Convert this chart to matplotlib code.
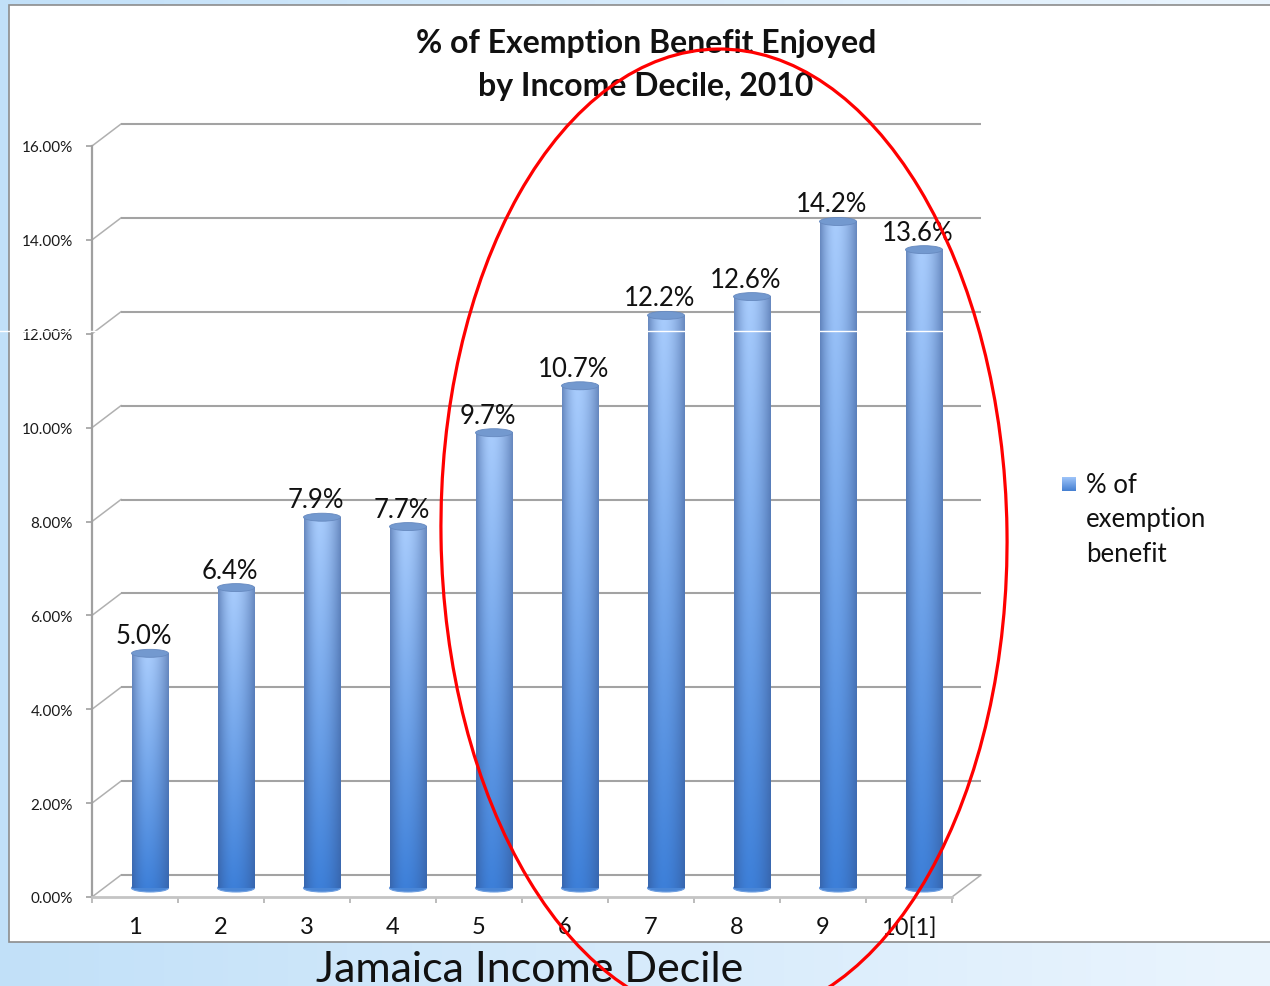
import numpy as np
import matplotlib
matplotlib.use("Agg")
import matplotlib.pyplot as plt
from matplotlib.patches import Rectangle, Ellipse
from matplotlib.transforms import ScaledTranslation
from matplotlib.ticker import FixedLocator

plt.rcParams['font.family'] = ['Lato', 'DejaVu Sans']

# ---------------- data ----------------
deciles = ["1", "2", "3", "4", "5", "6", "7", "8", "9", "10[1]"]
share = [5.0, 6.4, 7.9, 7.7, 9.7, 10.7, 12.2, 12.6, 14.2, 13.6]
y_ticks = [0, 2, 4, 6, 8, 10, 12, 14, 16]
title = "% of Exemption Benefit Enjoyed\nby Income Decile, 2010"
x_title = "Jamaica Income Decile"
legend_label = "% of\nexemption\nbenefit"

W, H = 1270, 987
DPI = 100
fig = plt.figure(figsize=(W / DPI, H / DPI), dpi=DPI)

# ---------------- background ----------------
bg = fig.add_axes([0, 0, 1, 1], zorder=-10)
bg.set_xlim(0, W); bg.set_ylim(0, H); bg.axis('off')
grad = np.linspace(0, 1, 256)
c0 = np.array([0.76, 0.88, 0.975]); c1 = np.array([0.92, 0.96, 0.995])
img = c0[None, :] * (1 - grad[:, None]) + c1[None, :] * grad[:, None]
bg.imshow(img[None, :, :], extent=(0, W, 0, H), aspect='auto')
bg.add_patch(Rectangle((9, H - 943), W, 943 - 6, facecolor='white',
                       edgecolor='#8c8c8c', lw=1.2))

# ---------------- main axes ----------------
ax_l, ax_r, ax_t, ax_b = 92, 952, 147, 898
ax = fig.add_axes([ax_l / W, (H - ax_b) / H, (ax_r - ax_l) / W, (ax_b - ax_t) / H],
                  zorder=1)
ax.patch.set_alpha(0)
ax.set_xlim(0.5, 10.5)
ax.set_ylim(0, 16)

def off(dx, dy):
    return ax.transData + ScaledTranslation(dx / DPI, dy / DPI, fig.dpi_scale_trans)

back = off(29, 22)
bar_t = off(15, 9)
lab_t = off(9, 19)

grid_c = '#a3a3a3'
# back-wall gridlines
for v in y_ticks:
    ax.plot([0.5, 10.5], [v, v], color=grid_c, lw=1.5, transform=back,
            zorder=1, clip_on=False, solid_capstyle='butt')

# slanted depth connectors
fig.canvas.draw()
def px(x, y, t):
    return t.transform((x, y))
ov0 = fig.add_axes([0, 0, 1, 1], zorder=0.5)
ov0.set_xlim(0, W); ov0.set_ylim(0, H); ov0.axis('off')
for v in y_ticks:
    p0 = px(0.5, v, ax.transData); p1 = px(0.5, v, back)
    ov0.plot([p0[0], p1[0]], [p0[1], p1[1]], color='#b0b0b0', lw=1.1)
p0 = px(10.5, 0, ax.transData); p1 = px(10.5, 0, back)
ov0.plot([p0[0], p1[0]], [p0[1], p1[1]], color='#b0b0b0', lw=1.1)

# spines and ticks
for s in ['top', 'right']:
    ax.spines[s].set_visible(False)
ax.spines['left'].set_color('#a0a0a0'); ax.spines['left'].set_linewidth(1.6)
ax.spines['bottom'].set_color('#c4c4c4'); ax.spines['bottom'].set_linewidth(2.0)
ax.set_yticks(y_ticks)
ax.set_yticklabels([f"{v:.2f}%" for v in y_ticks])
ax.tick_params(axis='y', length=4.3, width=1.2, color='#a0a0a0', pad=9.5,
               labelsize=11, labelcolor='#1a1a1a')
ax.set_xticks(range(1, 11))
ax.set_xticklabels(deciles)
ax.tick_params(axis='x', which='major', length=0, pad=14, labelsize=17,
               labelcolor='#111111')
ax.xaxis.set_minor_locator(FixedLocator(np.arange(0.5, 11, 1.0)))
ax.tick_params(axis='x', which='minor', length=4.5, width=1.2, color='#b0b0b0')

ax.set_xlabel(x_title, fontsize=31, color='#111111', va='center')
ax.xaxis.set_label_coords((530 - ax_l) / (ax_r - ax_l), -(970 - ax_b) / (ax_b - ax_t))

# ---------------- cylinder bars ----------------
def cyl_image(nr=200, nc=80):
    t = np.linspace(0, 1, nr)[:, None]          # 0 top -> 1 bottom
    u = np.linspace(0, 1, nc)[None, :]
    top = np.array([0.66, 0.80, 0.99]); bot = np.array([0.24, 0.50, 0.85])
    base = top[None, None, :] * (1 - t[..., None]) + bot[None, None, :] * t[..., None]
    pk = 0.42
    d = np.where(u < pk, (pk - u) / pk, (u - pk) / (1 - pk))
    f = 1 - 0.55 * d ** 1.8
    dark = np.array([0.20, 0.32, 0.55])
    out = base * f[..., None] + dark[None, None, :] * (1 - f[..., None])
    return np.clip(out, 0, 1)

cimg = cyl_image()
bw = 0.43
cap_h = 0.17
for i, v in enumerate(share, start=1):
    ax.add_patch(Ellipse((i, 0), bw, cap_h, transform=bar_t, facecolor='#4a86d6',
                         edgecolor='#6f9fe0', lw=0.8, zorder=2, clip_on=False))
    ax.imshow(cimg, extent=(i - bw / 2, i + bw / 2, 0, v), transform=bar_t,
              aspect='auto', interpolation='bilinear', zorder=3, clip_on=False)
    ax.add_patch(Ellipse((i, v), bw, cap_h, transform=bar_t, facecolor='#7399cf',
                         edgecolor='#6689bf', lw=0.6, zorder=4, clip_on=False))
    ax.text(i, v, f"{v:.1f}%", transform=lab_t, ha='center', va='baseline',
            fontsize=18.5, color='#111111', zorder=5)

ax.set_xlim(0.5, 10.5)
ax.set_ylim(0, 16)

# ---------------- title & legend ----------------
fig.text(646 / W, 1 - 65 / H, title, ha='center', va='center', fontsize=23,
         fontweight='bold', color='#111111', linespacing=1.6)

ov = fig.add_axes([0, 0, 1, 1], zorder=10)
ov.set_xlim(0, W); ov.set_ylim(0, H); ov.axis('off')
ov.imshow(np.linspace(0, 1, 40)[:, None, None] * np.array([0.27, 0.50, 0.82]) +
          (1 - np.linspace(0, 1, 40)[:, None, None]) * np.array([0.62, 0.77, 0.98]) +
          np.zeros((40, 40, 3)),
          extent=(1062, 1076, H - 492, H - 478), aspect='auto')
fig.text(1086 / W, 1 - 520 / H, legend_label, ha='left', va='center', fontsize=18.5,
         color='#111111', linespacing=1.45)

# artifact white line
ov.plot([0, 985], [H - 332, H - 332], color='white', lw=1.0, zorder=1)

# red annotation ellipse
ov.add_patch(Ellipse((724, H - 535), 566, 970, angle=0.8, fill=False,
                     edgecolor='#ff0000', lw=2.3, zorder=5))
ov.set_xlim(0, W); ov.set_ylim(0, H)

fig.savefig("out.png", dpi=DPI)
